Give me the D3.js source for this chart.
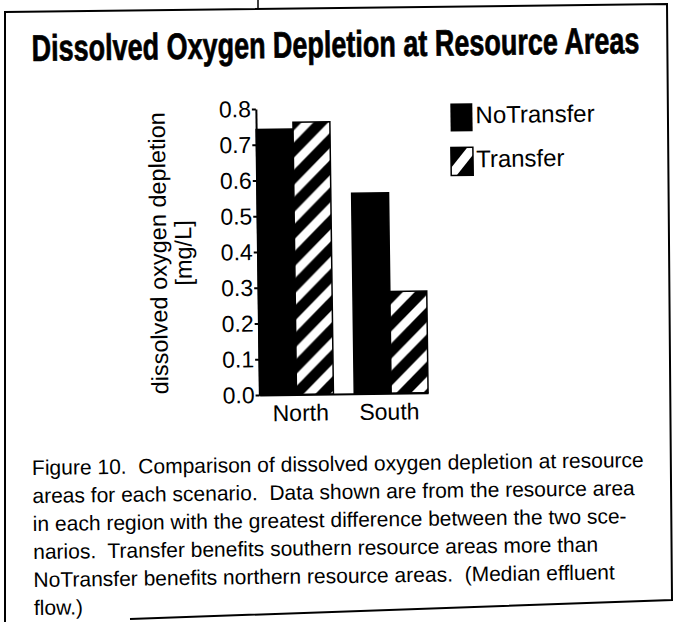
<!DOCTYPE html>
<html>
<head>
<meta charset="utf-8">
<script src="https://cdn.jsdelivr.net/npm/d3@7"></script>
<style>
  body { margin: 0; background: #fff; }
  svg { display: block; }
  text { font-family: "Liberation Sans", Arial, Helvetica, sans-serif; fill: #000; white-space: pre; }
</style>
</head>
<body>
<svg width="675" height="622"></svg>
<script>

// data
const regions = ["North", "South"];
const scenarios = ["NoTransfer", "Transfer"];
const noTransfer = [0.743, 0.561];
const transfer = [0.762, 0.285];
const yTicks = [0, 0.1, 0.2, 0.3, 0.4, 0.5, 0.6, 0.7, 0.8];

const title = "Dissolved Oxygen Depletion at Resource Areas";
const yLabel = ["dissolved oxygen depletion", "[mg/L]"];
const captionLines = [
  "Figure 10.  Comparison of dissolved oxygen depletion at resource",
  "areas for each scenario.  Data shown are from the resource area",
  "in each region with the greatest difference between the two sce-",
  "narios.  Transfer benefits southern resource areas more than",
  "NoTransfer benefits northern resource areas.  (Median effluent",
  "flow.)"
];

let svg = d3.select("svg");

//###############################################
// hatch pattern
//###############################################
let defs = svg.append("defs");
let hatch = defs.append("pattern")
  .attr("id", "hatch")
  .attr("patternUnits", "userSpaceOnUse")
  .attr("width", 27)
  .attr("height", 27);
hatch.append("rect").attr("width", 27).attr("height", 27).attr("fill", "#000");
hatch.append("path")
  .attr("d", "M-7,7 L7,-7 M0,27 L27,0 M20,34 L34,20")
  .attr("stroke", "#fff")
  .attr("stroke-width", 8.5);

// the scan is a little tilted, so is the page
let page = svg.append("g").attr("transform", "rotate(-0.75,337,311)");

//###############################################
// title (condensed bold: squeeze to the width seen in the scan)
//###############################################
let titleG = page.append("g");
let titleText = titleG.append("text")
  .attr("x", 0)
  .attr("y", 0)
  .style("font-family", "'Liberation Sans Narrow', 'Liberation Sans', Arial, sans-serif")
  .style("font-weight", "bold")
  .style("font-size", "37px")
  .style("stroke", "#000")
  .style("stroke-width", 0.7)
  .text(title);
let natural = titleText.node().getComputedTextLength();
titleG.attr("transform", "translate(35,57) scale(" + (608 / natural) + ",1)");

//###############################################
// scales + axes
//###############################################
let x = d3.scaleBand()
  .domain(regions)
  .range([258.5, 427])
  .paddingInner(0.22)
  .paddingOuter(0);

let xs = d3.scaleBand()
  .domain(scenarios)
  .range([0, x.bandwidth()]);

let y = d3.scaleLinear()
  .domain([0, 0.8])
  .range([394, 108]);

let chart = page.append("g");

let series = [
  {key: "NoTransfer", values: noTransfer, fill: "#000"},
  {key: "Transfer", values: transfer, fill: "url(#hatch)"}
];

series.forEach(function(s) {
  chart.append("g").selectAll("rect")
    .data(regions.map((r, i) => ({region: r, value: s.values[i]})))
    .enter().append("rect")
      .attr("x", (d) => x(d.region) + xs(s.key))
      .attr("y", (d) => y(d.value))
      .attr("width", xs.bandwidth())
      .attr("height", (d) => y(0) - y(d.value))
      .attr("fill", s.fill)
      .attr("stroke", "#000")
      .attr("stroke-width", 1.5);
});

let yAxis = chart.append("g")
  .attr("transform", "translate(258.5,0)")
  .call(d3.axisLeft(y)
    .tickValues(yTicks)
    .tickFormat(d3.format(".1f"))
    .tickSize(4)
    .tickSizeOuter(0)
    .tickPadding(1));

let xAxis = chart.append("g")
  .attr("transform", "translate(0,394)")
  .call(d3.axisBottom(x)
    .tickSize(0)
    .tickSizeOuter(0)
    .tickPadding(10));

[yAxis, xAxis].forEach(function(a) {
  a.selectAll("path, line").attr("stroke", "#000").attr("stroke-width", 2);
  a.selectAll("text")
    .style("font-family", "'Liberation Sans', Arial, sans-serif")
    .style("font-size", "23px")
    .attr("fill", "#000");
});
xAxis.selectAll(".tick text").attr("dx", (d) => d == "North" ? 4 : -2);

// y label, two lines rotated
let yl = chart.append("g");
yLabel.forEach(function(t, i) {
  let cx = i == 0 ? 159 : 184;
  yl.append("text")
    .attr("transform", "translate(" + cx + ",251) rotate(-90)")
    .attr("text-anchor", "middle")
    .attr("dy", "0.35em")
    .style("font-size", "23.5px")
    .text(t);
});

//###############################################
// legend
//###############################################
let legend = page.append("g").attr("transform", "translate(453,105)");

let item = legend.selectAll("g")
  .data(scenarios)
  .enter().append("g")
    .attr("transform", (d, i) => "translate(0," + (i * 44) + ")");

defs.append("clipPath").attr("id", "swclip")
  .append("rect").attr("width", 22).attr("height", 28);

item.append("rect")
  .attr("width", 22)
  .attr("height", 28)
  .attr("fill", "#000");

item.filter((d) => d == "Transfer")
  .append("path")
    .attr("clip-path", "url(#swclip)")
    .attr("d", "M-2,30 L24,-2")
    .attr("stroke", "#fff")
    .attr("stroke-width", 9);

item.filter((d) => d == "Transfer")
  .append("rect")
    .attr("width", 22)
    .attr("height", 28)
    .attr("fill", "none")
    .attr("stroke", "#000")
    .attr("stroke-width", 1.5);

item.append("text")
  .attr("x", 25)
  .attr("y", 20)
  .style("font-size", "24px")
  .text((d) => d);

//###############################################
// caption
//###############################################
page.append("g").selectAll("text")
  .data(captionLines)
  .enter().append("text")
    .attr("x", 30)
    .attr("y", (d, i) => 471 + i * 28)
    .style("font-size", "21px")
    .text((d) => d);

//###############################################
// scanned frame
//###############################################
svg.append("path")
  .attr("d", "M5,622 L5,12 L667,4 L672,600 L130,619")
  .attr("fill", "none")
  .attr("stroke", "#000")
  .attr("stroke-width", 2);

svg.append("line")
  .attr("x1", 258).attr("y1", 0)
  .attr("x2", 258).attr("y2", 8)
  .attr("stroke", "#000")
  .attr("stroke-width", 1.5);

</script>
</body>
</html>
